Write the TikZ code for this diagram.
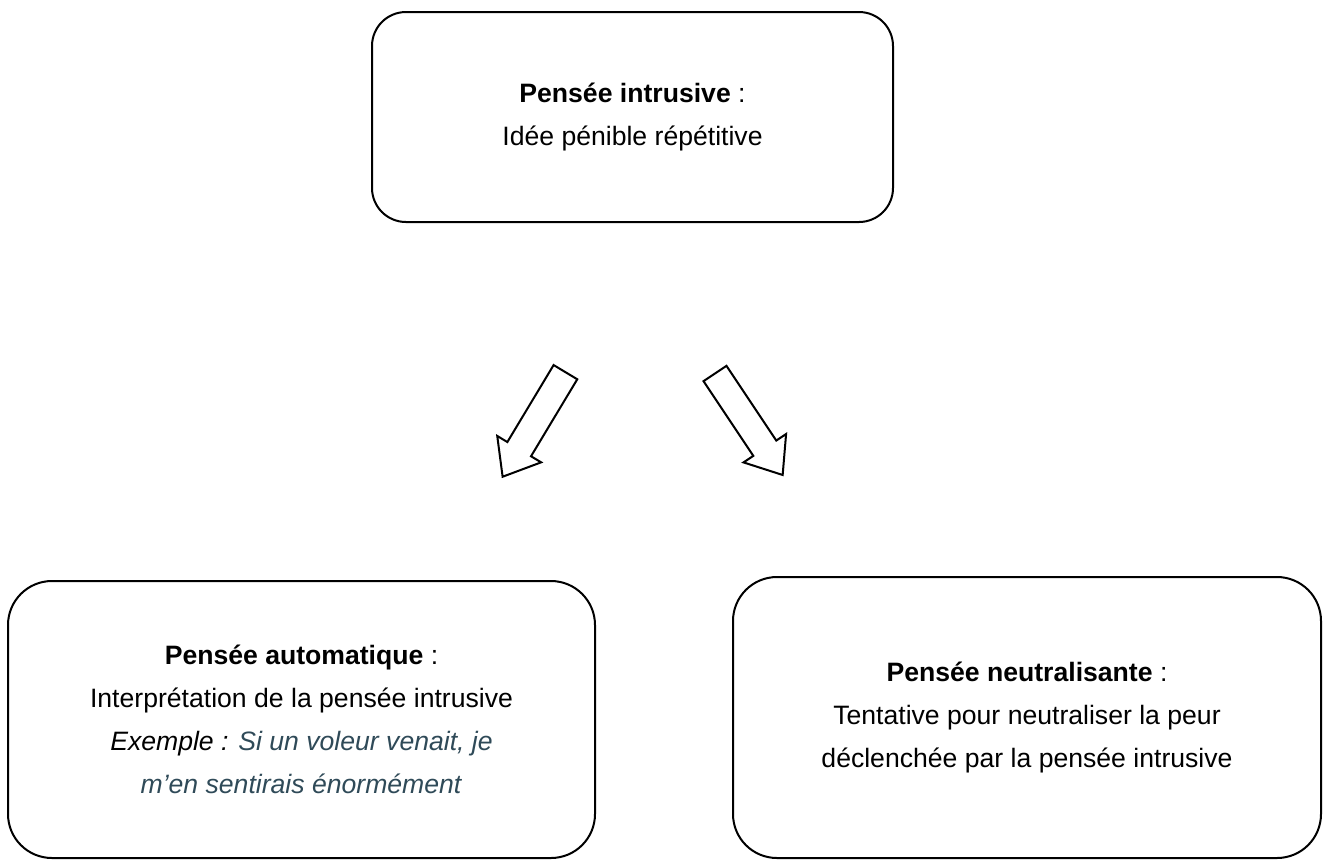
\documentclass[tikz,border=0pt]{standalone}
\usepackage{fontspec}
\setmainfont{Liberation Sans}
\usepackage{xcolor}
\usepackage{tikz}
\usetikzlibrary{shapes.arrows}
\definecolor{exemple}{RGB}{47,74,88}
\tikzstyle{pensee} = [draw, line width=1pt, align=center, font=\fontsize{13.3}{21.5}\selectfont]
\tikzstyle{fleche} = [draw, single arrow, line width=1pt, minimum height=61pt, minimum width=0pt, inner xsep=0pt, inner ysep=6.4pt, single arrow head extend=5.9pt, single arrow tip angle=77]

\begin{document}
\begin{tikzpicture}[x=0.5pt, y=-0.5pt]
	\useasboundingbox (0,0) rectangle (1323,859);
	% -------------- Pensee intrusive --------------
	\node[pensee, rounded corners=17pt, minimum width=260.5pt, minimum height=105pt] (intrusive) at (632.5,117)
		{\textbf{Pensée intrusive} :\\Idée pénible répétitive};
	% -------------- Fleches --------------
	\node[fleche, rotate=-121] (flecheA) at (538.5,417) {};
	\node[fleche, rotate=-56.3] (flecheN) at (744,417) {};
	% -------------- Pensee automatique --------------
	\node[pensee, rounded corners=22pt, minimum width=293.5pt, minimum height=138.5pt] (automatique) at (301.5,719.5)
		{\textbf{Pensée automatique} :\\Interprétation de la pensée intrusive\\\textit{Exemple :} \textcolor{exemple}{\textit{Si un voleur venait, je}}\\\textcolor{exemple}{\textit{m’en sentirais énormément}}};
	% -------------- Pensee neutralisante --------------
	\node[pensee, rounded corners=22pt, minimum width=294pt, minimum height=140.5pt] (neutralisante) at (1027,717.5)
		{\textbf{Pensée neutralisante} :\\Tentative pour neutraliser la peur\\déclenchée par la pensée intrusive};
\end{tikzpicture}
\end{document}
